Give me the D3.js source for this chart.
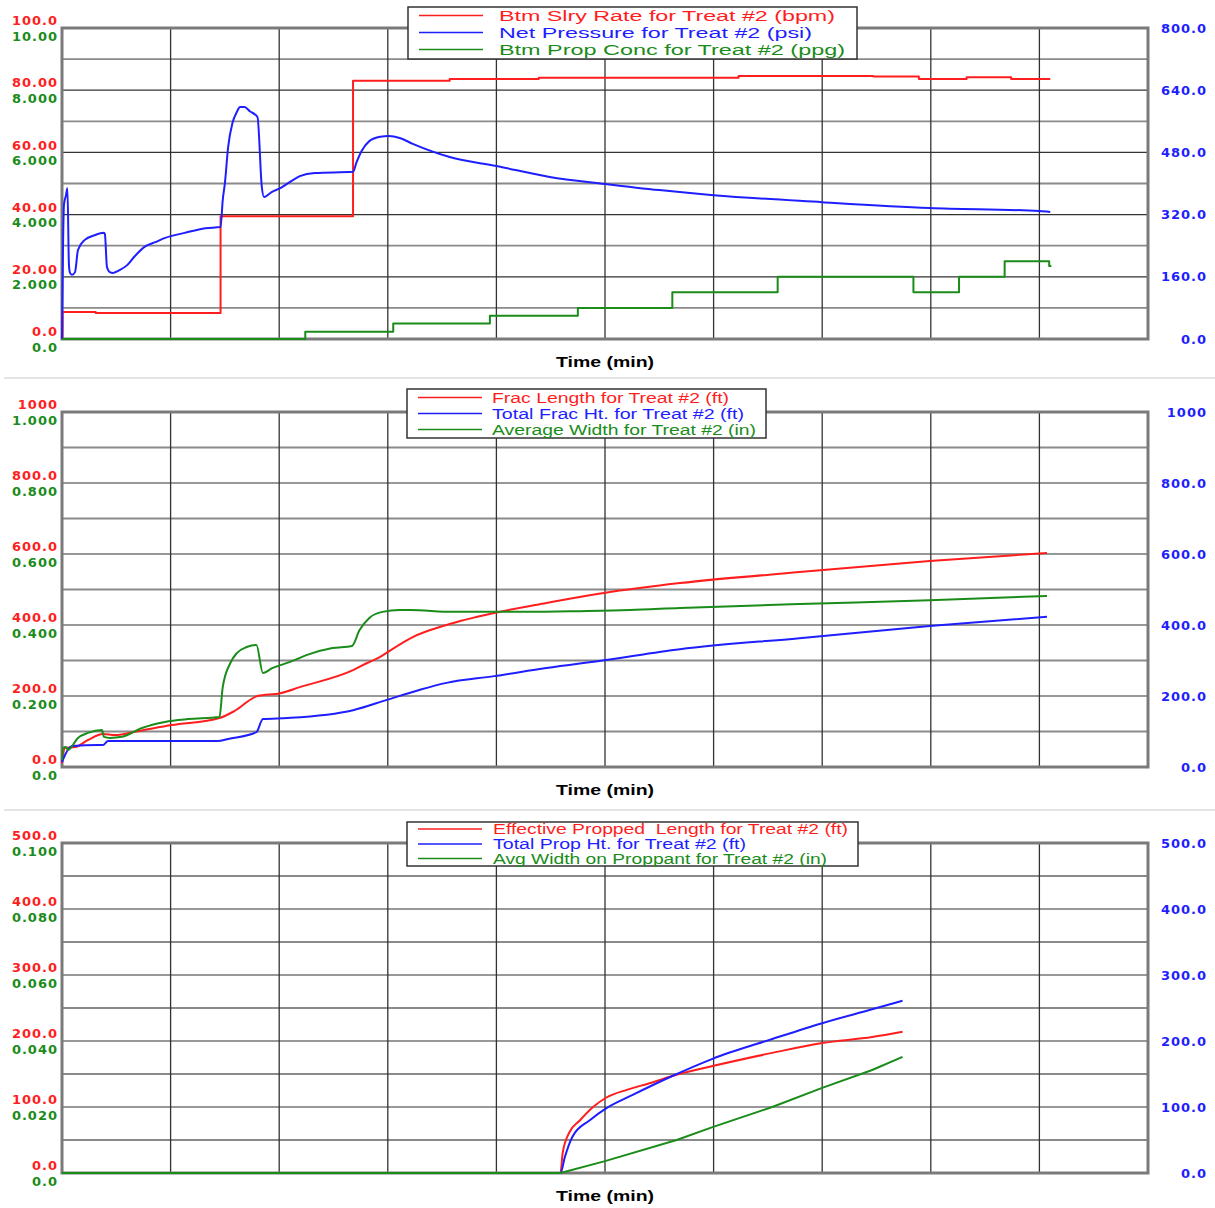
<!DOCTYPE html>
<html>
<head>
<meta charset="utf-8">
<script src="https://cdn.jsdelivr.net/npm/d3@7"></script>
<style>
  body { margin: 0; background: #fff; }
  .tick text { font-family: "DejaVu Sans", Verdana, sans-serif; font-weight: bold; font-size: 13px; letter-spacing: 1px; }
</style>
</head>
<body>
<div id="chart"></div>
<script>
//Treatment plots: three stacked panels sharing the time axis.
//Each series is a list of [time, value] pairs.

//---- panel 1 : rate / pressure / prop conc ----
var slryRate = [[0,0],[0.05,8.7],[3.1,8.4],[14.6,39.5],[26.8,83.0],[35.7,83.6],[43.9,84.0],
  [62.3,84.6],[74.7,84.4],[78.9,83.6],[83.3,84.2],[87.4,83.6],[91.0,83.6]];
var netPressure = [[0,0],[0.09,229],[0.18,345],[0.37,370],[0.5,388],[0.64,190],[0.74,170],
  [0.92,165],[1.2,172],[1.47,229],[2.1,255],[3.0,267],[3.86,273],[3.95,270],[4.14,185],
  [4.4,172],[4.7,170],[5.3,177],[6.0,190],[6.7,213],[7.6,237],[8.6,249],[9.5,260],
  [11.3,273],[13.2,285],[14.6,288],[14.8,357],[15.0,401],[15.3,494],[15.7,556],[16.1,584],
  [16.4,597],[16.8,597],[17.3,586],[18.0,571],[18.4,391],[18.6,365],[19.3,378],[20.1,388],
  [21.0,404],[21.9,419],[23.3,427],[26.8,430],[27.1,453],[27.6,484],[28.3,509],[29.3,520],
  [30.1,522],[31.1,517],[32.3,502],[35.7,468],[40.0,445],[44.9,417],[50.0,399],[55.0,383],
  [60.0,370],[70.0,352],[79.9,337],[90.0,329],[91.0,327]];
var propConc = [[0,0],[22.4,0.23],[30.5,0.5],[39.4,0.75],[47.5,1.0],[56.2,1.5],[65.9,2.0],
  [78.4,1.5],[82.6,2.0],[86.8,2.5],[90.9,2.35],[91.1,2.35]];

//---- panel 2 : frac length / height / width ----
var fracLength = [[0,10],[0.28,54],[1.2,56],[2.39,76],[3.77,93],[4.88,90],[6.99,101],[10.1,118],
  [14.5,138],[15.9,158],[18.0,200],[20.1,208],[21.9,225],[26.8,273],[28.1,293],[29.3,310],
  [29.9,322],[32.3,366],[35.4,400],[39.8,434],[44.6,462],[49.9,490],[56.9,518],[67.9,549],
  [79.9,580],[90.7,603]];
var fracHeight = [[0,14],[0.28,34],[0.92,59],[3.31,62],[3.77,62],[4.23,73],[14.35,73],[15.3,79],
  [17.9,98],[18.5,135],[20.8,138],[26.8,160],[29.9,189],[32.9,217],[35.4,237],[39.8,256],
  [44.6,279],[49.9,301],[56.9,332],[67.9,363],[79.9,397],[90.7,423]];
var avgWidth = [[0,0.02],[0.09,0.054],[0.37,0.056],[0.55,0.048],[1.47,0.082],[2.39,0.096],
  [3.68,0.104],[3.86,0.085],[4.42,0.082],[5.52,0.085],[7.36,0.11],[9.48,0.127],[11.6,0.135],
  [14.5,0.141],[14.8,0.225],[15.5,0.293],[16.1,0.321],[17.0,0.338],[17.9,0.344],[18.5,0.265],
  [19.4,0.279],[21.0,0.296],[22.5,0.315],[24.9,0.335],[26.7,0.341],[27.4,0.386],[28.3,0.42],
  [29.5,0.437],[31.1,0.442],[32.0,0.442],[36.0,0.437],[42.8,0.437],[47.7,0.439],[52.3,0.442],
  [56.9,0.448],[67.9,0.459],[79.9,0.470],[90.7,0.482]];

//---- panel 3 : propped length / height / width ----
var proppedLength = [[0,0],[45.9,0],[46.1,30],[46.7,61],[47.7,80],[48.9,100],[50.1,114],[52.0,126],
  [54.1,136],[56.2,147],[59.9,162],[65.4,182],[70.0,197],[74.6,206],[77.4,214]];
var propHeight = [[0,0],[45.9,0],[46.3,24],[47.0,55],[48.6,80],[50.1,98],[52.5,118],[56.2,147],
  [59.9,173],[65.4,203],[70.0,227],[74.6,248],[77.4,261]];
var propWidth = [[0,0],[45.9,0],[50.0,0.0036],[56.6,0.010],[59.9,0.0139],[65.4,0.020],
  [70.0,0.0258],[74.6,0.0312],[77.4,0.0352]];

//tick labels (bottom to top)
var p1RedTicks = ["0.0","20.00","40.00","60.00","80.00","100.0"];
var p1GreenTicks = ["0.0","2.000","4.000","6.000","8.000","10.00"];
var p1BlueTicks = ["0.0","160.0","320.0","480.0","640.0","800.0"];
var p2RedTicks = ["0.0","200.0","400.0","600.0","800.0","1000"];
var p2GreenTicks = ["0.0","0.200","0.400","0.600","0.800","1.000"];
var p2BlueTicks = ["0.0","200.0","400.0","600.0","800.0","1000"];
var p3RedTicks = ["0.0","100.0","200.0","300.0","400.0","500.0"];
var p3GreenTicks = ["0.0","0.020","0.040","0.060","0.080","0.100"];
var p3BlueTicks = ["0.0","100.0","200.0","300.0","400.0","500.0"];

var p1Legend = ["Btm Slry Rate for Treat #2 (bpm)", "Net Pressure for Treat #2 (psi)", "Btm Prop Conc for Treat #2 (ppg)"];
var p2Legend = ["Frac Length for Treat #2 (ft)", "Total Frac Ht. for Treat #2 (ft)", "Average Width for Treat #2 (in)"];
var p3Legend = ["Effective Propped\u00a0 Length for Treat #2 (ft)", "Total Prop Ht. for Treat #2 (ft)", "Avg Width on Proppant for Treat #2 (in)"];

var RED = "#ff1e1e", BLUE = "#1e1eff", GREEN = "#1a8c1a";

var svg = d3.select("#chart").append("svg")
  .attr("width", 1215)
  .attr("height", 1208);

//light separators between the panels
[378, 810].forEach(y => {
  svg.append("line").attr("x1", 4).attr("x2", 1215).attr("y1", y).attr("y2", y)
    .attr("stroke", "#e4e4e4").attr("stroke-width", 2);
});

var x = d3.scaleLinear().domain([0, 100]).range([62, 1148]);

function drawPanel(p){
  var yRed = d3.scaleLinear().domain([0, p.redMax]).range([p.bottom, p.top]);
  var yBlue = d3.scaleLinear().domain([0, p.blueMax]).range([p.bottom, p.top]);
  var yGreen = d3.scaleLinear().domain([0, p.greenMax]).range([p.bottom, p.top]);
  var g = svg.append("g");

  //horizontal grid: labelled lines dark and thin, the ones between grey and wider
  g.selectAll("line.h").data(yRed.ticks(10)).enter().append("line")
    .attr("x1", x(0)).attr("x2", x(100))
    .attr("y1", d => yRed(d)).attr("y2", d => yRed(d))
    .attr("stroke", (d, i) => i % 2 ? "#8a8a8a" : "#333")
    .attr("stroke-width", (d, i) => i % 2 ? 1.8 : 1.2);
  g.selectAll("line.v").data(x.ticks(10)).enter().append("line")
    .attr("x1", d => x(d)).attr("x2", d => x(d))
    .attr("y1", p.top).attr("y2", p.bottom)
    .attr("stroke", "#333").attr("stroke-width", 1.3);
  g.append("rect")
    .attr("x", x(0)).attr("y", p.top)
    .attr("width", x(100) - x(0)).attr("height", p.bottom - p.top)
    .attr("fill", "none").attr("stroke", "#7a7a7a").attr("stroke-width", 3);

  //axes: red labels sit above each line, green below, blue on the right
  var redAxis = d3.axisLeft(yRed).tickValues(d3.range(6).map(i => i * p.redMax / 5))
    .tickFormat((d, i) => p.redTicks[i]).tickSize(0);
  var greenAxis = d3.axisLeft(yGreen).tickValues(d3.range(6).map(i => i * p.greenMax / 5))
    .tickFormat((d, i) => p.greenTicks[i]).tickSize(0);
  var blueAxis = d3.axisRight(yBlue).tickValues(d3.range(6).map(i => i * p.blueMax / 5))
    .tickFormat((d, i) => p.blueTicks[i]).tickSize(0);

  var ar = g.append("g").attr("transform", "translate(61,0)").call(redAxis);
  ar.selectAll("text").attr("fill", RED).attr("dy", "0.32em").attr("y", -7.5);
  var ag = g.append("g").attr("transform", "translate(61,0)").call(greenAxis);
  ag.selectAll("text").attr("fill", GREEN).attr("dy", "0.32em").attr("y", 8);
  var ab = g.append("g").attr("transform", "translate(1207,0)").call(blueAxis);
  ab.selectAll("text").attr("fill", BLUE).attr("text-anchor", "end").attr("x", 0);
  g.selectAll(".domain").remove();

  //series
  var series = [
    {data: p.red, y: yRed, color: RED, curve: p.redCurve},
    {data: p.blue, y: yBlue, color: BLUE, curve: p.blueCurve},
    {data: p.green, y: yGreen, color: GREEN, curve: p.greenCurve}
  ];
  series.forEach(s => {
    g.append("path")
      .attr("d", d3.line().x(d => x(d[0])).y(d => s.y(d[1])).curve(s.curve)(s.data))
      .attr("fill", "none").attr("stroke", s.color).attr("stroke-width", 2)
      .attr("stroke-linejoin", "round");
  });

  //x title
  g.append("text").attr("x", 605).attr("y", p.bottom + 23)
    .attr("dy", "0.35em").attr("text-anchor", "middle")
    .attr("textLength", 98).attr("lengthAdjust", "spacingAndGlyphs")
    .style("font-family", "'Liberation Sans', Arial, sans-serif")
    .style("font-weight", "bold").style("font-size", "14px")
    .text("Time (min)");

  //legend box
  var L = p.legend;
  var lg = svg.append("g");
  lg.append("rect").attr("x", L.x0).attr("y", L.y0)
    .attr("width", L.x1 - L.x0).attr("height", L.y1 - L.y0)
    .attr("fill", "#fff").attr("stroke", "#333").attr("stroke-width", 1.5);
  [RED, BLUE, GREEN].forEach((c, i) => {
    lg.append("line").attr("x1", L.x0 + 11).attr("x2", L.x0 + 75)
      .attr("y1", L.rows[i]).attr("y2", L.rows[i])
      .attr("stroke", c).attr("stroke-width", 1.3);
    lg.append("text").attr("x", L.tx).attr("y", L.rows[i]).attr("dy", "0.36em")
      .attr("fill", c)
      .attr("textLength", L.widths[i]).attr("lengthAdjust", "spacingAndGlyphs")
      .style("font-family", "'Liberation Sans', Arial, sans-serif")
      .style("font-size", L.size + "px")
      .text(p.legendText[i]);
  });
}

drawPanel({
  top: 28, bottom: 339, redMax: 100, greenMax: 10, blueMax: 800,
  redTicks: p1RedTicks, greenTicks: p1GreenTicks, blueTicks: p1BlueTicks,
  red: slryRate, blue: netPressure, green: propConc,
  redCurve: d3.curveStepAfter, blueCurve: d3.curveMonotoneX, greenCurve: d3.curveStepAfter,
  legendText: p1Legend,
  legend: {x0: 408, x1: 857, y0: 7, y1: 59, rows: [15.5, 32.5, 49.5], tx: 499, widths: [336, 313, 346], size: 15.5}
});

drawPanel({
  top: 412, bottom: 767, redMax: 1000, greenMax: 1, blueMax: 1000,
  redTicks: p2RedTicks, greenTicks: p2GreenTicks, blueTicks: p2BlueTicks,
  red: fracLength, blue: fracHeight, green: avgWidth,
  redCurve: d3.curveMonotoneX, blueCurve: d3.curveMonotoneX, greenCurve: d3.curveMonotoneX,
  legendText: p2Legend,
  legend: {x0: 407, x1: 766, y0: 389, y1: 438, rows: [397.5, 413.5, 429.5], tx: 492, widths: [237, 252, 264], size: 14}
});

drawPanel({
  top: 843, bottom: 1173, redMax: 500, greenMax: 0.1, blueMax: 500,
  redTicks: p3RedTicks, greenTicks: p3GreenTicks, blueTicks: p3BlueTicks,
  red: proppedLength, blue: propHeight, green: propWidth,
  redCurve: d3.curveMonotoneX, blueCurve: d3.curveMonotoneX, greenCurve: d3.curveLinear,
  legendText: p3Legend,
  legend: {x0: 407, x1: 858, y0: 822, y1: 866, rows: [829, 844, 858.5], tx: 493, widths: [355, 253, 334], size: 14}
});
</script>
</body>
</html>
